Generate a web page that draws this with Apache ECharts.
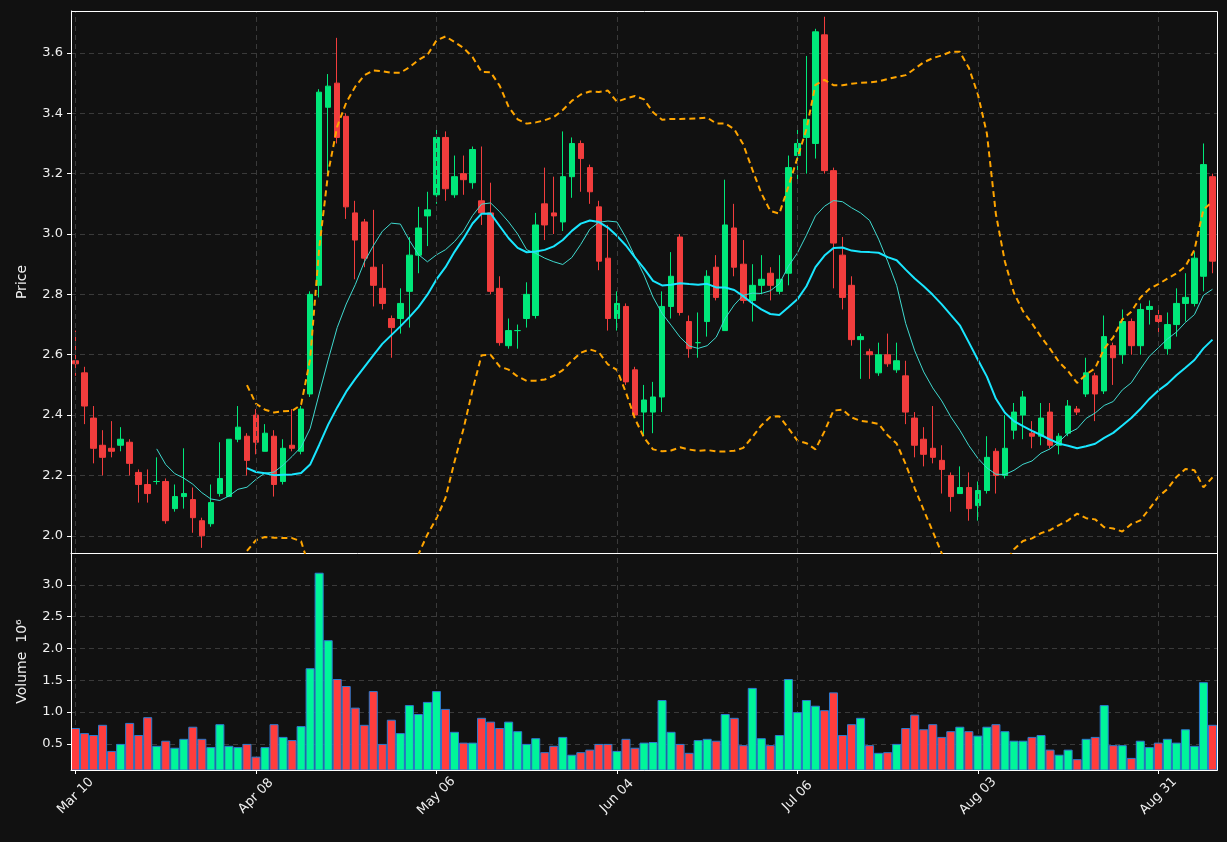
<!DOCTYPE html>
<html><head><meta charset="utf-8">
<script src="https://cdn.jsdelivr.net/npm/echarts@6/dist/echarts.min.js"></script>
<style>html,body{margin:0;padding:0;background:#111111;}#c{width:1227px;height:842px;}</style>
</head><body><div id="c"></div>
<script>
const tickLabels = ['Mar 10','Apr 08','May 06','Jun 04','Jul 06','Aug 03','Aug 31'];
const opens  = [2.58,2.54,2.39,2.30,2.29,2.30,2.31,2.21,2.17,2.18,2.18,2.09,2.13,2.12,2.05,2.04,2.14,2.13,2.32,2.33,
2.40,2.28,2.33,2.18,2.30,2.28,2.47,2.83,3.42,3.50,3.39,3.07,3.04,2.89,2.82,2.72,2.72,2.81,2.93,3.06,
3.13,3.32,3.13,3.20,3.17,3.11,3.07,2.82,2.63,2.68,2.72,2.73,3.10,3.07,3.04,3.19,3.30,3.22,3.09,2.92,
2.72,2.76,2.55,2.41,2.41,2.46,2.76,2.99,2.71,2.64,2.71,2.89,2.68,3.02,2.90,2.78,2.83,2.87,2.81,2.87,
3.26,3.32,3.30,3.66,3.21,2.93,2.83,2.65,2.61,2.54,2.60,2.55,2.53,2.39,2.32,2.29,2.25,2.20,2.14,2.16,
2.10,2.15,2.28,2.20,2.35,2.40,2.34,2.33,2.41,2.30,2.34,2.42,2.47,2.53,2.48,2.63,2.60,2.71,2.63,2.75,
2.73,2.62,2.70,2.77,2.77,2.86,3.19];
const closes = [2.57,2.43,2.29,2.26,2.28,2.32,2.24,2.17,2.14,2.18,2.05,2.13,2.14,2.06,2.00,2.11,2.19,2.32,2.36,2.25,
2.31,2.34,2.17,2.29,2.29,2.42,2.80,3.47,3.49,3.32,3.09,2.98,2.92,2.83,2.77,2.69,2.77,2.93,3.02,3.08,
3.32,3.15,3.19,3.18,3.28,3.07,2.81,2.64,2.68,2.68,2.80,3.03,3.03,3.06,3.19,3.30,3.25,3.14,2.91,2.72,
2.77,2.51,2.40,2.45,2.46,2.76,2.86,2.74,2.62,2.64,2.86,2.79,3.03,2.89,2.78,2.83,2.85,2.83,2.85,3.22,
3.30,3.38,3.67,3.21,2.97,2.79,2.65,2.66,2.60,2.60,2.57,2.58,2.41,2.30,2.27,2.26,2.22,2.13,2.16,2.09,
2.15,2.26,2.20,2.29,2.41,2.46,2.33,2.39,2.30,2.33,2.43,2.41,2.54,2.47,2.66,2.59,2.71,2.63,2.75,2.76,
2.71,2.70,2.77,2.79,2.92,3.23,2.91];
const highs  = [2.68,2.56,2.43,2.35,2.38,2.36,2.32,2.22,2.22,2.26,2.19,2.17,2.29,2.16,2.06,2.17,2.31,2.32,2.43,2.34,
2.42,2.37,2.35,2.32,2.42,2.43,2.81,3.48,3.53,3.65,3.40,3.11,3.05,3.08,2.90,2.73,2.82,2.99,3.09,3.14,
3.35,3.34,3.26,3.26,3.29,3.29,3.17,2.86,2.72,2.70,2.84,3.07,3.22,3.19,3.34,3.32,3.31,3.23,3.11,3.03,
2.81,2.77,2.56,2.50,2.51,2.81,2.94,3.00,2.73,2.74,2.88,2.93,3.18,3.10,2.98,2.90,2.93,2.89,2.93,3.26,
3.35,3.59,3.68,3.72,3.22,2.99,2.86,2.67,2.62,2.64,2.67,2.64,2.58,2.41,2.36,2.43,2.30,2.21,2.23,2.21,
2.18,2.33,2.29,2.40,2.44,2.48,2.38,2.44,2.44,2.34,2.45,2.43,2.59,2.54,2.73,2.64,2.75,2.72,2.77,2.78,
2.75,2.74,2.82,2.87,2.94,3.30,3.20];
const lows   = [2.53,2.37,2.24,2.20,2.26,2.28,2.20,2.11,2.11,2.17,2.04,2.08,2.09,2.01,1.96,2.03,2.13,2.13,2.31,2.20,
2.27,2.28,2.13,2.17,2.28,2.27,2.46,2.79,3.20,3.30,3.05,2.85,2.89,2.76,2.75,2.59,2.67,2.69,2.87,2.96,
3.10,3.11,3.12,3.13,3.15,3.03,2.80,2.63,2.62,2.62,2.69,2.72,2.98,3.00,3.01,3.12,3.14,3.10,2.88,2.68,
2.68,2.50,2.39,2.33,2.34,2.41,2.72,2.73,2.59,2.59,2.66,2.78,2.68,2.86,2.77,2.71,2.80,2.78,2.80,2.83,
3.17,3.20,3.25,3.20,2.82,2.75,2.63,2.52,2.52,2.53,2.56,2.54,2.37,2.26,2.23,2.24,2.14,2.08,2.14,2.05,
2.05,2.14,2.14,2.19,2.32,2.32,2.29,2.30,2.29,2.27,2.33,2.40,2.46,2.38,2.47,2.50,2.57,2.60,2.60,2.70,
2.66,2.60,2.66,2.71,2.76,2.81,2.87];
const volumes = [0.75,0.67,0.64,0.80,0.39,0.50,0.83,0.64,0.92,0.47,0.55,0.44,0.58,0.77,0.58,0.45,0.81,0.47,0.45,0.50,
0.30,0.45,0.81,0.61,0.56,0.78,1.69,3.19,2.13,1.52,1.41,1.07,0.80,1.33,0.50,0.88,0.67,1.11,0.97,1.16,
1.33,1.05,0.69,0.52,0.52,0.91,0.85,0.75,0.85,0.70,0.50,0.59,0.37,0.47,0.61,0.33,0.37,0.41,0.50,0.50,
0.39,0.58,0.44,0.52,0.53,1.19,0.69,0.50,0.36,0.56,0.58,0.55,0.97,0.91,0.48,1.38,0.59,0.48,0.64,1.52,
1.00,1.19,1.10,1.03,1.31,0.64,0.81,0.91,0.48,0.36,0.37,0.50,0.75,0.96,0.73,0.81,0.61,0.70,0.77,0.70,
0.63,0.77,0.81,0.70,0.55,0.55,0.61,0.64,0.41,0.33,0.41,0.26,0.58,0.61,1.11,0.48,0.48,0.28,0.55,0.45,
0.52,0.58,0.52,0.73,0.47,1.47,0.80];

const cats = closes.map((_, i) => String(i));
function ma(n){ return closes.map((_, i) => { if (i < n-1) return '-'; let s=0; for(let k=i-n+1;k<=i;k++) s+=closes[k]; return +(s/n).toFixed(4);}); }
function band(n, m, sign){ return closes.map((_, i) => { if (i < n-1) return '-'; let s=0; for(let k=i-n+1;k<=i;k++) s+=closes[k]; const mu=s/n; let v=0; for(let k=i-n+1;k<=i;k++) v+=(closes[k]-mu)**2; const sd=Math.sqrt(v/(n-1)); return +(mu+sign*m*sd).toFixed(4);}); }
const ma10 = ma(10), ma20 = ma(20), bbU = band(20,2,1), bbL = band(20,2,-1);
const UP='#00e87a', DN='#f23d3d';
const kdata = closes.map((c,i)=>[opens[i],c,lows[i],highs[i]]);
const vdata = volumes.map((v,i)=>({value:v, itemStyle:{color: closes[i]>=opens[i]?'#00f59a':'#ff3d3d'}}));
const vLines = tickLabels.map((_, k) => ({xAxis: String(k*20)}));
const vMark = {silent:true, symbol:'none', label:{show:false}, lineStyle:{color:'#3a3a3a', type:[5,4], width:1}, data:vLines};

const txt = '#f0f0f0';
const split = {show:true, lineStyle:{color:'#3a3a3a', type:[5,4], width:1}};
const chart = echarts.init(document.getElementById('c'));
chart.setOption({
  backgroundColor:'#111111',
  animation:false,
  grid:[{left:71,right:10,top:11,height:542},{left:71,right:10,top:553,height:217}],
  graphic:[{type:'rect',shape:{x:71.5,y:11.5,width:1146,height:759},style:{fill:null,stroke:'#ffffff',lineWidth:1},silent:true,z:100}],
  xAxis:[
    {type:'category',data:cats,gridIndex:0,boundaryGap:true,axisLine:{show:true,onZero:false,lineStyle:{color:'#ffffff'}},axisTick:{show:false},axisLabel:{show:false},splitLine:{show:false}},
    {type:'category',data:cats,gridIndex:1,boundaryGap:true,axisLine:{show:true,onZero:false,lineStyle:{color:'#ffffff'}},
     axisTick:{show:true,alignWithLabel:true,interval:(i)=>i%20===0,length:4,lineStyle:{color:'#ffffff'}},
     axisLabel:{interval:(i)=>i%20===0,rotate:45,align:'center',verticalAlign:'middle',margin:26,color:txt,fontSize:13,fontFamily:'DejaVu Sans',formatter:(v)=>tickLabels[Math.round(+v/20)]||''},
     splitLine:{show:false}}
  ],
  yAxis:[
    {type:'value',gridIndex:0,min:1.943,max:3.739,name:'Price',nameLocation:'middle',nameGap:42,nameRotate:90,nameTextStyle:{color:txt,fontSize:14,fontFamily:'DejaVu Sans'},
     axisLine:{show:true,lineStyle:{color:'#ffffff'}},axisTick:{show:true,length:4,customValues:[2.0,2.2,2.4,2.6,2.8,3.0,3.2,3.4,3.6],lineStyle:{color:'#fff'}},
     axisLabel:{color:txt,fontSize:13,fontFamily:'DejaVu Sans',customValues:[2.0,2.2,2.4,2.6,2.8,3.0,3.2,3.4,3.6],formatter:(v)=>v.toFixed(1)},splitLine:split},
    {type:'value',gridIndex:1,min:0.09,max:3.50,name:'Volume  10⁶',nameLocation:'middle',nameGap:42,nameRotate:90,nameTextStyle:{color:txt,fontSize:14,fontFamily:'DejaVu Sans'},
     axisLine:{show:true,lineStyle:{color:'#ffffff'}},axisTick:{show:true,length:4,customValues:[0.5,1.0,1.5,2.0,2.5,3.0],lineStyle:{color:'#fff'}},
     axisLabel:{color:txt,fontSize:13,fontFamily:'DejaVu Sans',customValues:[0.5,1.0,1.5,2.0,2.5,3.0],formatter:(v)=>v.toFixed(1)},splitLine:split}
  ],
  series:[
    {type:'candlestick',xAxisIndex:0,yAxisIndex:0,data:kdata,barWidth:6,itemStyle:{color:UP,color0:DN,borderColor:UP,borderColor0:DN,borderWidth:1},markLine:vMark},
    {type:'line',xAxisIndex:0,yAxisIndex:0,data:ma10,showSymbol:false,lineStyle:{color:'#3fd9cf',width:1}},
    {type:'line',xAxisIndex:0,yAxisIndex:0,data:ma20,showSymbol:false,lineStyle:{color:'#19e6ff',width:2}},
    {type:'line',xAxisIndex:0,yAxisIndex:0,data:bbU,showSymbol:false,lineStyle:{color:'#ffa500',width:2,type:[6,4]}},
    {type:'line',xAxisIndex:0,yAxisIndex:0,data:bbL,showSymbol:false,lineStyle:{color:'#ffa500',width:2,type:[6,4]}},
    {type:'bar',xAxisIndex:1,yAxisIndex:1,data:vdata,barWidth:'100%',itemStyle:{borderColor:'#2b7bd0',borderWidth:1},markLine:Object.assign({},vMark,{z:-1})}
  ]
});
</script></body></html>
